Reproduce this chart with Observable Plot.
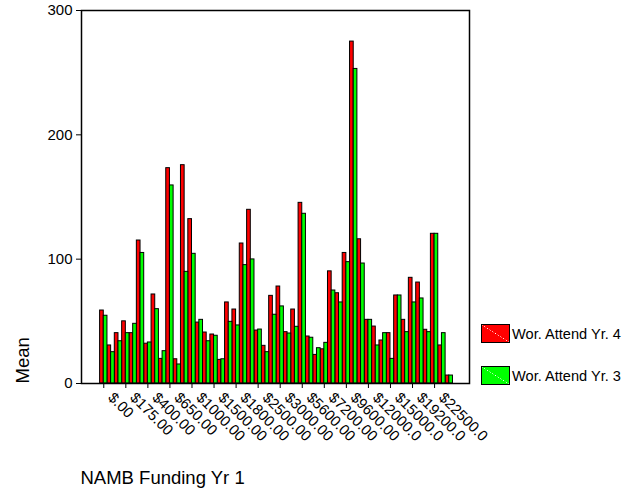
<!DOCTYPE html>
<html><head><meta charset="utf-8">
<script src="https://cdn.jsdelivr.net/npm/d3@7"></script>
<script src="https://cdn.jsdelivr.net/npm/@observablehq/plot@0.6"></script>
<style>
body{margin:0;background:#fff;}
#wrap{position:relative;width:639px;height:489px;font-family:Arial,"Liberation Sans",sans-serif;color:#000;}
.leg{position:absolute;left:481px;display:flex;align-items:center;font-size:14.6px;white-space:nowrap;}
.sw{width:27px;height:17px;border:1px solid #000;margin-right:2px;}
</style></head><body><div id="wrap"></div>
<script>
const tickLabels = ["$.00","$175.00","$400.00","$650.00","$1000.00","$1500.00","$1800.00","$2500.00","$3000.00","$5600.00","$7200.00","$9600.00","$12000.0","$15000.0","$19200.0","$22500.0"];
const yr4 = [58.7,30.6,40.5,50,40.5,115,32,71.6,19.8,173.2,19.5,175.6,132.2,49,41,39.4,19,65.2,59.5,112.6,139.7,42.6,30.3,70.5,78,41.3,59.5,145.3,37.8,23,27.5,90.2,72.6,105,275,116,51.2,45.8,34.6,40.5,70.8,51.2,85,81.2,43.2,120.4,30.6,6.4];
const yr3 = [54.5,25.2,34,40.5,48,105,33,59.8,26,159.3,15.3,89.8,104.3,51.2,34,38.4,19.5,49.6,46.7,95.2,99.8,43.4,25.2,55.3,62,40.2,45.6,136.5,36.8,28.4,32.7,74.8,65.2,97.6,253,96.5,51.2,30.6,40.5,19.8,70.8,41.3,65.2,68.4,41.3,120.4,40.5,6.4];
const seriesNames = ["Wor. Attend Yr. 4","Wor. Attend Yr. 3"];
const seriesColors = ["#ff0000","#00ff00"];
const yTicks = [0,100,200,300];
const xTitle = "NAMB Funding Yr 1";
const yTitle = "Mean";

const idx = yr4.map((_, i) => i);
const tickIdx = idx.filter(i => i % 3 === 0);

const chart = Plot.plot({
  width: 639, height: 489,
  marginLeft: 81, marginRight: 170, marginTop: 10, marginBottom: 106,
  style: {fontFamily: "Arial, 'Liberation Sans', sans-serif", fontSize: "15px", color: "#000", background: "#fff"},
  x: {type: "linear", domain: [-3.03, 49.75], ticks: tickIdx, tickFormat: () => "", tickSize: 5, label: null},
  y: {domain: [0, 300], ticks: yTicks, tickSize: 5, tickPadding: 4, label: null},
  marks: [
    Plot.rect(idx, {x1: i => i - 0.5, x2: i => i, y1: 0, y2: i => yr4[i], fill: seriesColors[0], stroke: "#000", strokeWidth: 1}),
    Plot.rect(idx, {x1: i => i, x2: i => i + 0.5, y1: 0, y2: i => yr3[i], fill: seriesColors[1], stroke: "#000", strokeWidth: 1}),
    Plot.frame({stroke: "#000", strokeWidth: 1.5}),
    Plot.text(tickIdx, {x: i => i, text: i => tickLabels[i / 3], frameAnchor: "bottom", rotate: 45, textAnchor: "start", lineAnchor: "bottom", dx: 3.5, dy: 15, fontSize: 14.8, fill: "#000"}),
    Plot.text([yTitle], {text: d => d, frameAnchor: "bottom-left", rotate: -90, textAnchor: "start", lineAnchor: "bottom", dx: -53, dy: 0, fontSize: 18.5, fill: "#000"}),
    Plot.text([xTitle], {text: d => d, frameAnchor: "bottom-left", textAnchor: "start", lineAnchor: "bottom", dx: -1, dy: 100, fontSize: 18.5, fill: "#000"})
  ]
});
const wrap = document.getElementById("wrap");
wrap.appendChild(chart);
const legTops = [324, 366];
seriesNames.forEach((n, k) => {
  const d = document.createElement("div");
  d.className = "leg";
  d.style.top = legTops[k] + "px";
  const s = document.createElement("div");
  s.className = "sw";
  const c = seriesColors[k];
  s.style.background = `linear-gradient(to top right, ${c} 49%, rgba(255,255,255,0.25) 50%, ${c} 51%)`;
  const t = document.createElement("span");
  t.textContent = n;
  d.appendChild(s); d.appendChild(t);
  wrap.appendChild(d);
});
</script></body></html>
